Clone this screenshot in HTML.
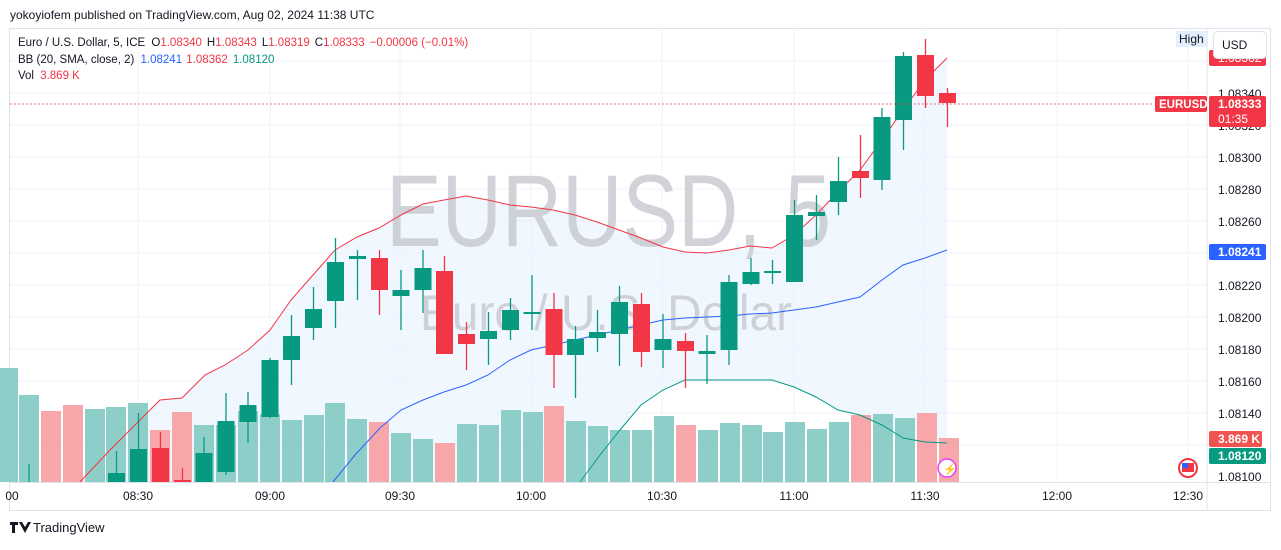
<!DOCTYPE html>
<html><head><meta charset="utf-8"><style>
body{margin:0;background:#fff;width:1281px;height:545px;overflow:hidden;font-family:"Liberation Sans",sans-serif;}
svg text{font-family:"Liberation Sans",sans-serif;}
</style></head><body>
<svg width="1281" height="545" viewBox="0 0 1281 545" xmlns="http://www.w3.org/2000/svg">
<rect width="1281" height="545" fill="#fff"/>
<text x="10" y="19" font-size="12" fill="#131722">yokoyiofem published on TradingView.com, Aug 02, 2024 11:38 UTC</text>
<rect x="9.5" y="28.5" width="1261" height="482" fill="none" stroke="#e0e3eb"/>
<g stroke="#f0f3fa" stroke-width="1">
<line x1="10" y1="61" x2="1207" y2="61"/><line x1="10" y1="93" x2="1207" y2="93"/><line x1="10" y1="125" x2="1207" y2="125"/><line x1="10" y1="157" x2="1207" y2="157"/><line x1="10" y1="189" x2="1207" y2="189"/><line x1="10" y1="221" x2="1207" y2="221"/><line x1="10" y1="253" x2="1207" y2="253"/><line x1="10" y1="285" x2="1207" y2="285"/><line x1="10" y1="317" x2="1207" y2="317"/><line x1="10" y1="349" x2="1207" y2="349"/><line x1="10" y1="381" x2="1207" y2="381"/><line x1="10" y1="413" x2="1207" y2="413"/><line x1="10" y1="445" x2="1207" y2="445"/>
<line x1="138" y1="29" x2="138" y2="482"/><line x1="270" y1="29" x2="270" y2="482"/><line x1="400" y1="29" x2="400" y2="482"/><line x1="531" y1="29" x2="531" y2="482"/><line x1="662" y1="29" x2="662" y2="482"/><line x1="794" y1="29" x2="794" y2="482"/><line x1="925" y1="29" x2="925" y2="482"/><line x1="1057" y1="29" x2="1057" y2="482"/><line x1="1188" y1="29" x2="1188" y2="482"/>
</g>
<polygon fill="#e3f0ff" fill-opacity="0.55" points="80,482 110,450 140,420 160,400 182,398 205,375 225,365 248,350 270,330 291,300 313,275 335,250 357,237 379,228 401,215 423,204 444,200 466,196 488,200 510,205 531,207 553,210 575,215 597,222 619,230 641,238 663,247 685,252 707,253 729,250 750,246 772,248 794,235 816,215 838,192 860,170 882,140 903,110 925,80 947,58 947,443 925,442 903,438 882,425 860,415 838,410 816,397 794,387 772,380 750,380 729,380 707,380 685,380 663,390 641,405 620,430 600,455 580,482"/>
<text x="386" y="246" font-size="102" textLength="445" lengthAdjust="spacingAndGlyphs" fill="#c5c8ce" fill-opacity="0.8">EURUSD, 5</text>
<text x="420" y="330" font-size="50" textLength="372" lengthAdjust="spacingAndGlyphs" fill="#c5c8ce" fill-opacity="0.8">Euro / U.S. Dollar</text>
<g>
<rect x="-2" y="368" width="20" height="114" fill="#8dcfc8"/>
<rect x="19" y="395" width="20" height="87" fill="#8dcfc8"/>
<rect x="41" y="411" width="20" height="71" fill="#f7a6a9"/>
<rect x="63" y="405" width="20" height="77" fill="#f7a6a9"/>
<rect x="85" y="409" width="20" height="73" fill="#8dcfc8"/>
<rect x="106" y="407" width="20" height="75" fill="#8dcfc8"/>
<rect x="128" y="403" width="20" height="79" fill="#8dcfc8"/>
<rect x="150" y="430" width="20" height="52" fill="#f7a6a9"/>
<rect x="172" y="412" width="20" height="70" fill="#f7a6a9"/>
<rect x="194" y="425" width="20" height="57" fill="#8dcfc8"/>
<rect x="216" y="425" width="20" height="57" fill="#8dcfc8"/>
<rect x="238" y="411" width="20" height="71" fill="#8dcfc8"/>
<rect x="260" y="414" width="20" height="68" fill="#8dcfc8"/>
<rect x="282" y="420" width="20" height="62" fill="#8dcfc8"/>
<rect x="304" y="415" width="20" height="67" fill="#8dcfc8"/>
<rect x="325" y="403" width="20" height="79" fill="#8dcfc8"/>
<rect x="347" y="419" width="20" height="63" fill="#8dcfc8"/>
<rect x="369" y="422" width="20" height="60" fill="#f7a6a9"/>
<rect x="391" y="433" width="20" height="49" fill="#8dcfc8"/>
<rect x="413" y="439" width="20" height="43" fill="#8dcfc8"/>
<rect x="435" y="443" width="20" height="39" fill="#f7a6a9"/>
<rect x="457" y="424" width="20" height="58" fill="#8dcfc8"/>
<rect x="479" y="425" width="20" height="57" fill="#8dcfc8"/>
<rect x="501" y="410" width="20" height="72" fill="#8dcfc8"/>
<rect x="523" y="412" width="20" height="70" fill="#8dcfc8"/>
<rect x="544" y="406" width="20" height="76" fill="#f7a6a9"/>
<rect x="566" y="421" width="20" height="61" fill="#8dcfc8"/>
<rect x="588" y="426" width="20" height="56" fill="#8dcfc8"/>
<rect x="610" y="430" width="20" height="52" fill="#8dcfc8"/>
<rect x="632" y="430" width="20" height="52" fill="#8dcfc8"/>
<rect x="654" y="416" width="20" height="66" fill="#8dcfc8"/>
<rect x="676" y="425" width="20" height="57" fill="#f7a6a9"/>
<rect x="698" y="430" width="20" height="52" fill="#8dcfc8"/>
<rect x="720" y="423" width="20" height="59" fill="#8dcfc8"/>
<rect x="742" y="425" width="20" height="57" fill="#8dcfc8"/>
<rect x="763" y="432" width="20" height="50" fill="#8dcfc8"/>
<rect x="785" y="422" width="20" height="60" fill="#8dcfc8"/>
<rect x="807" y="429" width="20" height="53" fill="#8dcfc8"/>
<rect x="829" y="422" width="20" height="60" fill="#8dcfc8"/>
<rect x="851" y="415" width="20" height="67" fill="#f7a6a9"/>
<rect x="873" y="414" width="20" height="68" fill="#8dcfc8"/>
<rect x="895" y="418" width="20" height="64" fill="#8dcfc8"/>
<rect x="917" y="413" width="20" height="69" fill="#f7a6a9"/>
<rect x="939" y="438" width="20" height="44" fill="#f7a6a9"/>
</g>
<polyline fill="none" stroke="#f23645" stroke-width="1" points="80,482 110,450 140,420 160,400 182,398 205,375 225,365 248,350 270,330 291,300 313,275 335,250 357,237 379,228 401,215 423,204 444,200 466,196 488,200 510,205 531,207 553,210 575,215 597,222 619,230 641,238 663,247 685,252 707,253 729,250 750,246 772,248 794,235 816,215 838,192 860,170 882,140 903,110 925,80 947,58"/>
<polyline fill="none" stroke="#2962ff" stroke-width="1" points="333,482 355,455 380,428 401,410 423,400 444,392 466,385 488,375 510,360 531,350 553,345 575,340 597,335 619,330 641,325 663,320 685,318 707,317 729,316 750,314 772,313 794,310 816,307 838,302 860,297 882,280 903,265 925,258 947,250"/>
<polyline fill="none" stroke="#089981" stroke-width="1" points="580,482 600,455 620,430 641,405 663,390 685,380 707,380 729,380 750,380 772,380 794,387 816,397 838,410 860,415 882,425 903,438 925,442 947,443"/>
<g stroke-width="1.3">
<g stroke="#089981" fill="#089981">
<line x1="29" y1="464" x2="29" y2="482"/>
<line x1="116.5" y1="451" x2="116.5" y2="482"/><rect x="108" y="473" width="17" height="9" stroke="none"/>
<line x1="138.5" y1="413" x2="138.5" y2="482"/><rect x="130" y="449" width="17" height="33" stroke="none"/>
<line x1="204" y1="437" x2="204" y2="482"/><rect x="195.5" y="453" width="17" height="29" stroke="none"/>
<line x1="226" y1="393" x2="226" y2="475"/><rect x="217.5" y="421" width="17" height="51" stroke="none"/>
<line x1="248" y1="392" x2="248" y2="443"/><rect x="239.5" y="405" width="17" height="17" stroke="none"/>
<line x1="270" y1="358" x2="270" y2="418"/><rect x="261.5" y="360" width="17" height="57" stroke="none"/>
<line x1="291.5" y1="315" x2="291.5" y2="385"/><rect x="283" y="336" width="17" height="24" stroke="none"/>
<line x1="313.5" y1="287" x2="313.5" y2="340"/><rect x="305" y="309" width="17" height="19" stroke="none"/>
<line x1="335.5" y1="238" x2="335.5" y2="328"/><rect x="327" y="262" width="17" height="39" stroke="none"/>
<line x1="357.5" y1="250" x2="357.5" y2="300"/><rect x="349" y="256" width="17" height="3" stroke="none"/>
<line x1="401" y1="270" x2="401" y2="330"/><rect x="392.5" y="290" width="17" height="6" stroke="none"/>
<line x1="423" y1="250" x2="423" y2="313"/><rect x="414.5" y="268" width="17" height="22" stroke="none"/>
<line x1="488.5" y1="312" x2="488.5" y2="365"/><rect x="480" y="331" width="17" height="8" stroke="none"/>
<line x1="510.5" y1="298" x2="510.5" y2="340"/><rect x="502" y="310" width="17" height="20" stroke="none"/>
<line x1="532" y1="275" x2="532" y2="330"/><rect x="523.5" y="312" width="17" height="2" stroke="none"/>
<line x1="575.5" y1="326" x2="575.5" y2="398"/><rect x="567" y="339" width="17" height="16" stroke="none"/>
<line x1="597.5" y1="310" x2="597.5" y2="352"/><rect x="589" y="332" width="17" height="6" stroke="none"/>
<line x1="619.5" y1="286" x2="619.5" y2="366"/><rect x="611" y="302" width="17" height="32" stroke="none"/>
<line x1="663" y1="314" x2="663" y2="368"/><rect x="654.5" y="339" width="17" height="11" stroke="none"/>
<line x1="707" y1="335" x2="707" y2="384"/><rect x="698.5" y="351" width="17" height="3" stroke="none"/>
<line x1="729" y1="275" x2="729" y2="365"/><rect x="720.5" y="282" width="17" height="68" stroke="none"/>
<line x1="751" y1="258" x2="751" y2="285"/><rect x="742.5" y="272" width="17" height="12" stroke="none"/>
<line x1="772.5" y1="260" x2="772.5" y2="284"/><rect x="764" y="271" width="17" height="2" stroke="none"/>
<line x1="794.5" y1="200" x2="794.5" y2="282"/><rect x="786" y="215" width="17" height="67" stroke="none"/>
<line x1="816.5" y1="195" x2="816.5" y2="240"/><rect x="808" y="212" width="17" height="4" stroke="none"/>
<line x1="838.5" y1="157" x2="838.5" y2="215"/><rect x="830" y="181" width="17" height="21" stroke="none"/>
<line x1="882" y1="108" x2="882" y2="190"/><rect x="873.5" y="117" width="17" height="63" stroke="none"/>
<line x1="903.5" y1="52" x2="903.5" y2="150"/><rect x="895" y="56" width="17" height="64" stroke="none"/>
</g>
<g stroke="#f23645" fill="#f23645">
<line x1="160.5" y1="432" x2="160.5" y2="482"/><rect x="152" y="448" width="17" height="34" stroke="none"/>
<line x1="182.5" y1="468" x2="182.5" y2="482"/><rect x="174" y="480" width="17" height="2" stroke="none"/>
<line x1="379.5" y1="250" x2="379.5" y2="315"/><rect x="371" y="258" width="17" height="32" stroke="none"/>
<line x1="444.5" y1="256" x2="444.5" y2="354"/><rect x="436" y="271" width="17" height="83" stroke="none"/>
<line x1="466.5" y1="322" x2="466.5" y2="370"/><rect x="458" y="334" width="17" height="10" stroke="none"/>
<line x1="554" y1="293" x2="554" y2="388"/><rect x="545.5" y="309" width="17" height="46" stroke="none"/>
<line x1="641.5" y1="293" x2="641.5" y2="367"/><rect x="633" y="304" width="17" height="48" stroke="none"/>
<line x1="685.5" y1="333" x2="685.5" y2="388"/><rect x="677" y="341" width="17" height="10" stroke="none"/>
<line x1="860.5" y1="135" x2="860.5" y2="198"/><rect x="852" y="171" width="17" height="7" stroke="none"/>
<line x1="925.5" y1="39" x2="925.5" y2="108"/><rect x="917" y="55" width="17" height="41" stroke="none"/>
<line x1="947.5" y1="88" x2="947.5" y2="127"/><rect x="939" y="93" width="17" height="10" stroke="none"/>
</g>
</g>
<line x1="10" y1="104" x2="1154" y2="104" stroke="#f23645" stroke-width="1" stroke-dasharray="1.5,2.5"/>
<text x="18" y="46" font-size="11.5" fill="#131722">Euro / U.S. Dollar, 5, ICE <tspan dx="3">O</tspan><tspan fill="#f23645">1.08340</tspan><tspan dx="5">H</tspan><tspan fill="#f23645">1.08343</tspan><tspan dx="5">L</tspan><tspan fill="#f23645">1.08319</tspan><tspan dx="5">C</tspan><tspan fill="#f23645">1.08333</tspan><tspan dx="5" fill="#f23645">−0.00006 (−0.01%)</tspan></text>
<text x="18" y="63" font-size="11.5" fill="#131722">BB (20, SMA, close, 2) <tspan dx="3" fill="#2962ff">1.08241</tspan><tspan dx="5" fill="#f23645">1.08362</tspan><tspan dx="5" fill="#089981">1.08120</tspan></text>
<text x="18" y="79" font-size="11.5" fill="#131722">Vol <tspan dx="3" fill="#f23645">3.869 K</tspan></text>
<line x1="1207" y1="29" x2="1207" y2="510" stroke="#e0e3eb"/>
<line x1="10" y1="482.5" x2="1270" y2="482.5" stroke="#e0e3eb"/>
<g font-size="12" fill="#131722">
<text x="1218" y="162">1.08300</text><text x="1218" y="194">1.08280</text><text x="1218" y="226">1.08260</text>
<text x="1218" y="290">1.08220</text><text x="1218" y="322">1.08200</text><text x="1218" y="354">1.08180</text><text x="1218" y="386">1.08160</text><text x="1218" y="418">1.08140</text><text x="1218" y="481">1.08100</text>
<text x="1218" y="98">1.08340</text><text x="1218" y="130">1.08320</text>
</g>
<rect x="1209" y="50" width="57" height="16" rx="2" fill="#f23645"/>
<text x="1218" y="62" font-size="12" fill="#fff">1.08362</text>
<rect x="1176" y="31" width="32" height="16" fill="#e3effd"/>
<text x="1179" y="43" font-size="12" fill="#131722">High</text>
<rect x="1213.5" y="31.5" width="53" height="27" rx="4" fill="#fff" stroke="#e0e3eb"/>
<text x="1222" y="49" font-size="12" fill="#131722">USD</text>
<rect x="1155" y="96" width="52" height="16" rx="2" fill="#f23645"/>
<text x="1159" y="108" font-size="11.5" font-weight="bold" fill="#fff">EURUSD</text>
<rect x="1209" y="96" width="57" height="31" rx="2" fill="#f23645"/>
<text x="1218" y="108" font-size="12" font-weight="bold" fill="#fff">1.08333</text>
<text x="1218" y="123" font-size="12" fill="#fff">01:35</text>
<rect x="1209" y="244" width="57" height="16" rx="2" fill="#2962ff"/>
<text x="1218" y="256" font-size="12" font-weight="bold" fill="#fff">1.08241</text>
<rect x="1209" y="431" width="53" height="16" rx="2" fill="#f05350"/>
<text x="1218" y="443" font-size="12" font-weight="bold" fill="#fff">3.869 K</text>
<rect x="1209" y="448" width="57" height="16" rx="2" fill="#089981"/>
<text x="1218" y="460" font-size="12" font-weight="bold" fill="#fff">1.08120</text>
<circle cx="1188" cy="468" r="9" fill="#fff" stroke="#f23645" stroke-width="2"/>
<rect x="1182" y="463" width="12" height="9" fill="#f23645"/><rect x="1182" y="463" width="6" height="5" fill="#2962ff"/>
<circle cx="947" cy="468" r="9" fill="#fff" stroke="#e040fb" stroke-width="1.5"/>
<text x="943" y="473" font-size="11" fill="#f23645">⚡</text>
<g font-size="12" fill="#131722" text-anchor="middle">
<text x="12" y="500">00</text><text x="138" y="500">08:30</text><text x="270" y="500">09:00</text><text x="400" y="500">09:30</text><text x="531" y="500">10:00</text><text x="662" y="500">10:30</text><text x="794" y="500">11:00</text><text x="925" y="500">11:30</text><text x="1057" y="500">12:00</text><text x="1188" y="500">12:30</text>
</g>
<path d="M10 522h8v3h-3v8h-3v-8h-2z M19 522h3l3 5 3-5h3l-6 11z" fill="#131722"/>
<text x="33" y="532" font-size="13" fill="#131722">TradingView</text>
</svg>
</body></html>
